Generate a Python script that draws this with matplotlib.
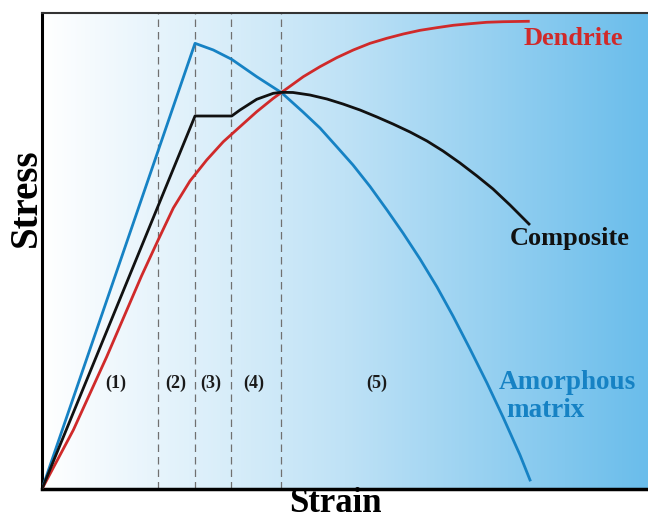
import numpy as np
import matplotlib.pyplot as plt
from matplotlib.colors import LinearSegmentedColormap

# strain / stress in arbitrary units (0-100)
amorphous_x = [0, 25.25, 28.27, 31.30, 35.43, 39.55, 43.07, 45.87, 48.68, 51.32, 54.13,
               56.93, 59.57, 62.38, 65.18, 67.82, 70.63, 73.43, 76.07, 78.88, 80.53]
amorphous_y = [0, 93.63, 92.23, 90.27, 86.62, 83.24, 79.20, 75.84, 71.85, 68.07, 63.55,
               58.61, 53.78, 48.32, 42.44, 36.34, 29.41, 22.27, 15.13, 7.14, 1.89]

composite_x = [0, 25.25, 31.30, 32.67, 35.43, 38.17, 39.55, 41.42, 44.22, 47.03, 49.67,
               52.48, 55.28, 57.92, 60.73, 63.53, 66.17, 68.98, 71.78, 74.42, 77.23, 80.36]
composite_y = [0, 78.36, 78.36, 79.62, 81.87, 83.13, 83.34, 83.30, 82.77, 81.93, 80.88,
               79.62, 78.15, 76.68, 75.00, 73.11, 71.01, 68.49, 65.76, 63.03, 59.66, 55.67]

dendrite_x = [0, 5.17, 10.68, 16.42, 19.09, 21.67, 24.42, 27.18, 29.92, 32.67, 35.43,
              38.17, 39.55, 43.12, 45.87, 48.63, 51.37, 54.13, 56.88, 59.62, 62.38,
              65.13, 67.87, 70.63, 73.38, 76.12, 80.25]
dendrite_y = [0, 12.39, 27.79, 44.75, 52.10, 59.03, 64.71, 69.12, 72.96, 76.11, 79.26,
              82.08, 83.34, 86.62, 88.72, 90.61, 92.23, 93.63, 94.68, 95.59, 96.36,
              96.91, 97.42, 97.75, 98.05, 98.17, 98.26]

stage_bounds = [19.2, 25.2, 31.2, 39.5]
stage_labels = ['(1)', '(2)', '(3)', '(4)', '(5)']
stage_label_x = [12.2, 22.1, 27.9, 35.0, 55.3]

BLUE = '#1682c4'
RED = '#d02a2a'
SERIF = 'Liberation Serif'


def main():
    fig = plt.figure(figsize=(6.48, 5.2), dpi=100)
    ax = fig.add_axes([42 / 648, 31 / 520, 1 - 42 / 648, 476 / 520])
    ax.set_xlim(0, 100)
    ax.set_ylim(0, 100)

    # background gradient white -> light blue
    cmap = LinearSegmentedColormap.from_list('bg', [(0, '#ffffff'), (0.5, '#bfe2f6'), (1, '#6abdeb')])
    grad = np.linspace(0, 1, 256).reshape(1, -1)
    ax.imshow(grad, extent=[0, 100, 0, 100], aspect='auto', cmap=cmap, zorder=0)

    for xb in stage_bounds:
        ax.axvline(xb, color='#707070', lw=0.9, linestyle=(0, (6, 4)), zorder=1)

    ax.plot(amorphous_x, amorphous_y, color=BLUE, lw=2, zorder=3, solid_joinstyle='round')
    ax.plot(dendrite_x, dendrite_y, color=RED, lw=2, zorder=3, solid_joinstyle='round')
    ax.plot(composite_x, composite_y, color='#111111', lw=2, zorder=4, solid_joinstyle='round')

    for lab, xl in zip(stage_labels, stage_label_x):
        ax.text(xl, 22.1, lab, ha='center', va='center', fontsize=13, fontweight='bold',
                family=SERIF, color='#1a1a1a')

    ax.text(87.6, 94.7, 'Dendrite', ha='center', va='center', fontsize=19,
            fontweight='bold', family=SERIF, color=RED)
    ax.text(87.1, 52.7, 'Composite', ha='center', va='center', fontsize=19,
            fontweight='bold', family=SERIF, color='#111111')
    ax.text(75.4, 22.3, 'Amorphous', ha='left', va='center', fontsize=19.5,
            fontweight='bold', family=SERIF, color=BLUE)
    ax.text(76.6, 16.4, 'matrix', ha='left', va='center', fontsize=19.5,
            fontweight='bold', family=SERIF, color=BLUE)

    ax.set_xticks([])
    ax.set_yticks([])
    ax.spines['right'].set_visible(False)
    ax.spines['left'].set_linewidth(2.2)
    ax.spines['bottom'].set_linewidth(2.5)
    ax.spines['top'].set_linewidth(1.5)
    ax.spines['top'].set_color('#333333')

    fig.text(335 / 648, 8.5 / 520, 'Strain', ha='center', va='baseline', fontsize=25,
             fontweight='bold', family=SERIF)
    fig.text(26 / 648, 1 - 198 / 520, 'Stress', ha='center', va='center', fontsize=28,
             fontweight='bold', family=SERIF, rotation=90)

    fig.savefig('out.png', dpi=100)


if __name__ == "__main__":
    main()
